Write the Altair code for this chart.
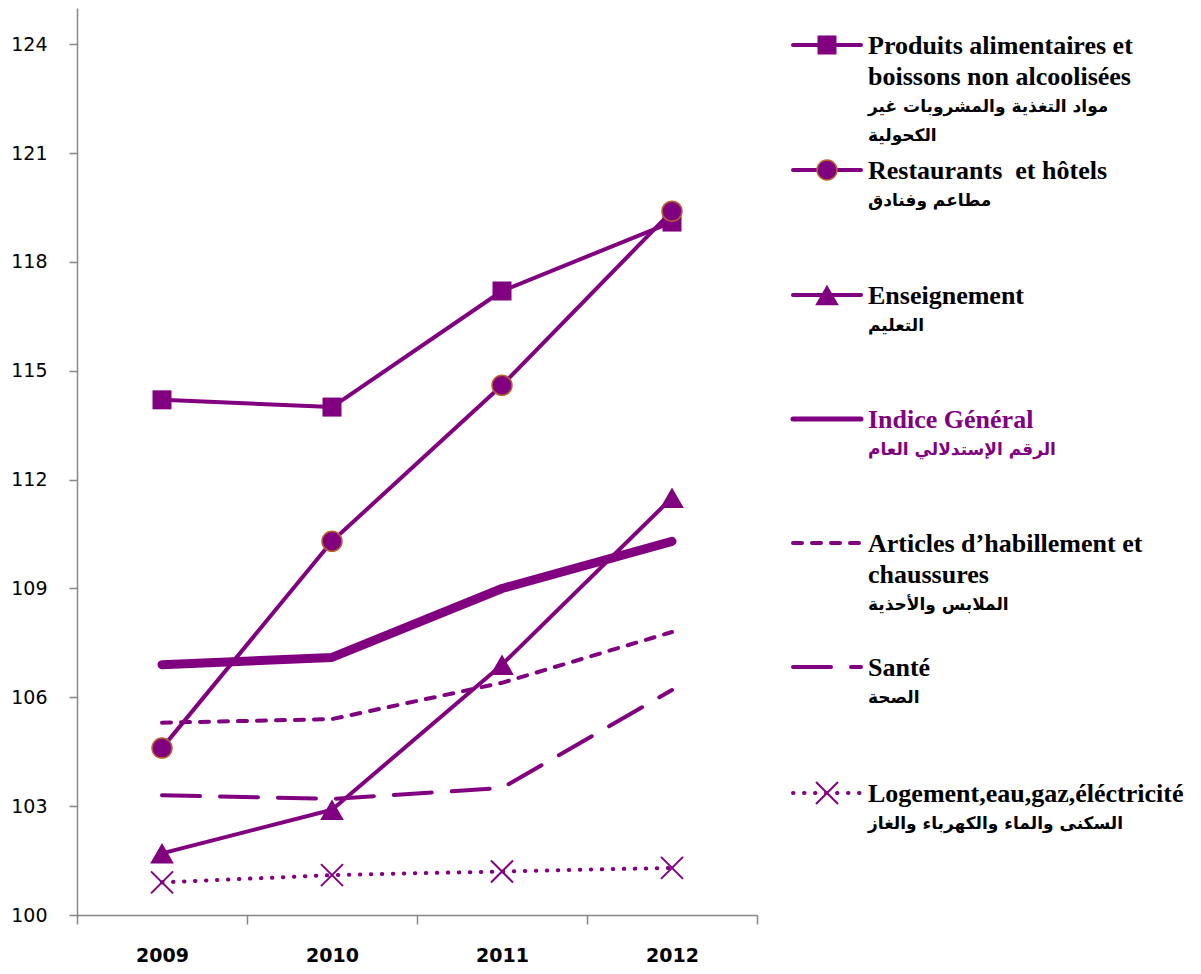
import altair as alt
import pandas as pd

years = ["2009", "2010", "2011", "2012"]

produits = [114.2, 114.0, 117.2, 119.1]
restaurants = [104.6, 110.3, 114.6, 119.4]
enseignement = [101.7, 102.9, 106.9, 111.5]
indice = [106.9, 107.1, 109.0, 110.3]
articles = [105.3, 105.4, 106.4, 107.8]
sante = [103.3, 103.2, 103.5, 106.2]
logement = [100.9, 101.1, 101.2, 101.3]

series_keys = ["produits", "restaurants", "enseignement", "indice", "articles", "sante", "logement"]
series_values = [produits, restaurants, enseignement, indice, articles, sante, logement]

legend_fr = [
    ["Produits alimentaires et", "boissons non alcoolisées"],
    ["Restaurants\u00a0 et hôtels"],
    ["Enseignement"],
    ["Indice Général"],
    ["Articles d\u2019habillement et", "chaussures"],
    ["Santé"],
    ["Logement,eau,gaz,éléctricité"],
]
legend_ar = [
    ["مواد التغذية والمشروبات غير", "الكحولية"],
    ["مطاعم وفنادق"],
    ["التعليم"],
    ["الرقم الإستدلالي العام"],
    ["الملابس والأحذية"],
    ["الصحة"],
    ["السكنى والماء والكهرباء والغاز"],
]

y_ticks = [100, 103, 106, 109, 112, 115, 118, 121, 124]

PURPLE = "#800080"
XPATH = "M-1,-1L1,1M1,-1L-1,1"

# styles (layout only)
styles = {
    "produits": dict(width=4, dash=None, shape="square", size=361, filled=True),
    "restaurants": dict(width=4, dash=None, shape="circle", size=400, filled=True),
    "enseignement": dict(width=4, dash=None, shape="triangle-up", size=560, filled=True),
    "indice": dict(width=9, dash=None, shape=None),
    "articles": dict(width=4, dash=[9, 10], shape=None),
    "sante": dict(width=4, dash=[38, 20], shape=None),
    "logement": dict(width=4, dash=[0.5, 10.5], shape=XPATH, size=484, filled=False),
}
legend_y = [37, 162, 287, 411, 535, 659, 785]

rows = []
for key, vals in zip(series_keys, series_values):
    for yr, v in zip(years, vals):
        rows.append({"series": key, "year": yr, "value": v})
df = pd.DataFrame(rows)

x_enc = alt.X(
    "year:N",
    bandPosition=0.5,
    scale=alt.Scale(type="band", paddingInner=0, paddingOuter=0, domain=years),
    axis=alt.Axis(
        title=None, tickBand="extent", labelAngle=0, labelFont="DejaVu Sans",
        labelFontWeight="bold", labelFontSize=19, labelColor="black",
        tickSize=9, labelPadding=22, domainColor="#868686", tickColor="#868686",
        domainWidth=1.5, tickWidth=1.5,
    ),
)
y_enc = alt.Y(
    "value:Q",
    scale=alt.Scale(domain=[100, 125], nice=False, zero=False),
    axis=alt.Axis(
        title=None, values=y_ticks, labelFont="DejaVu Sans", labelFontSize=19,
        labelColor="black", tickSize=8, labelPadding=22, grid=False,
        domainColor="#868686", tickColor="#868686", domainWidth=1.5, tickWidth=1.5,
    ),
)

base = alt.Chart(df)
layers = []
for key in series_keys:
    st = styles[key]
    line_kw = dict(color=PURPLE, strokeWidth=st["width"], strokeCap="round", strokeJoin="round")
    if st["dash"]:
        line_kw["strokeDash"] = st["dash"]
    layers.append(
        base.transform_filter(alt.datum.series == key).mark_line(**line_kw).encode(x=x_enc, y=y_enc)
    )
    if st["shape"]:
        pt_kw = dict(shape=st["shape"], size=st["size"], filled=st["filled"], opacity=1)
        if key == "restaurants":
            pt_kw.update(fill=PURPLE, stroke="#B8622E", strokeWidth=1.5)
        elif st["filled"]:
            pt_kw.update(color=PURPLE)
        else:
            pt_kw.update(stroke=PURPLE, strokeWidth=2)
        layers.append(
            base.transform_filter(alt.datum.series == key).mark_point(**pt_kw).encode(x=x_enc, y=y_enc)
        )

# legend
one = alt.Data(values=[{}])
for key, ly in zip(series_keys, legend_y):
    st = styles[key]
    rule_kw = dict(color=PURPLE, strokeWidth=5 if key == "indice" else 4, strokeCap="round")
    if st["dash"]:
        rule_kw["strokeDash"] = st["dash"]
    layers.append(
        alt.Chart(one).mark_rule(**rule_kw).encode(
            x=alt.value(716), x2=alt.value(784), y=alt.value(ly)
        )
    )
    if st["shape"]:
        pt_kw = dict(shape=st["shape"], size=st["size"], filled=st["filled"], opacity=1)
        if key == "restaurants":
            pt_kw.update(fill=PURPLE, stroke="#B8622E", strokeWidth=1.5)
        elif st["filled"]:
            pt_kw.update(color=PURPLE)
        else:
            pt_kw.update(stroke=PURPLE, strokeWidth=2)
        layers.append(
            alt.Chart(one).mark_point(**pt_kw).encode(x=alt.value(750), y=alt.value(ly))
        )

fr_rows, ar_rows = [], []
for key, ly, fr, ar in zip(series_keys, legend_y, legend_fr, legend_ar):
    col = PURPLE if key == "indice" else "black"
    yy = ly + 1
    for t in fr:
        fr_rows.append({"t": t, "px": 791, "py": yy, "c": col})
        yy += 31
    yy -= 1
    for t in ar:
        ar_rows.append({"t": t, "px": 791, "py": yy, "c": col})
        yy += 29

layers.append(
    alt.Chart(pd.DataFrame(fr_rows)).mark_text(
        align="left", baseline="middle", font="Liberation Serif", fontWeight="bold", fontSize=26
    ).encode(
        x=alt.X("px:Q", scale=None), y=alt.Y("py:Q", scale=None),
        text="t:N", color=alt.Color("c:N", scale=None),
    )
)
layers.append(
    alt.Chart(pd.DataFrame(ar_rows)).mark_text(
        align="left", baseline="middle", font="DejaVu Sans", fontWeight="bold", fontSize=17
    ).encode(
        x=alt.X("px:Q", scale=None), y=alt.Y("py:Q", scale=None),
        text="t:N", color=alt.Color("c:N", scale=None),
    )
)

chart = alt.layer(*layers).properties(
    width=680,
    height=907,
    autosize=alt.AutoSizeParams(type="none"),
    padding={"left": 69, "top": 0, "right": 430, "bottom": 49},
    background="white",
).configure_view(stroke=None)

chart.save("out.html", embed_options={"renderer": "svg", "actions": False})
